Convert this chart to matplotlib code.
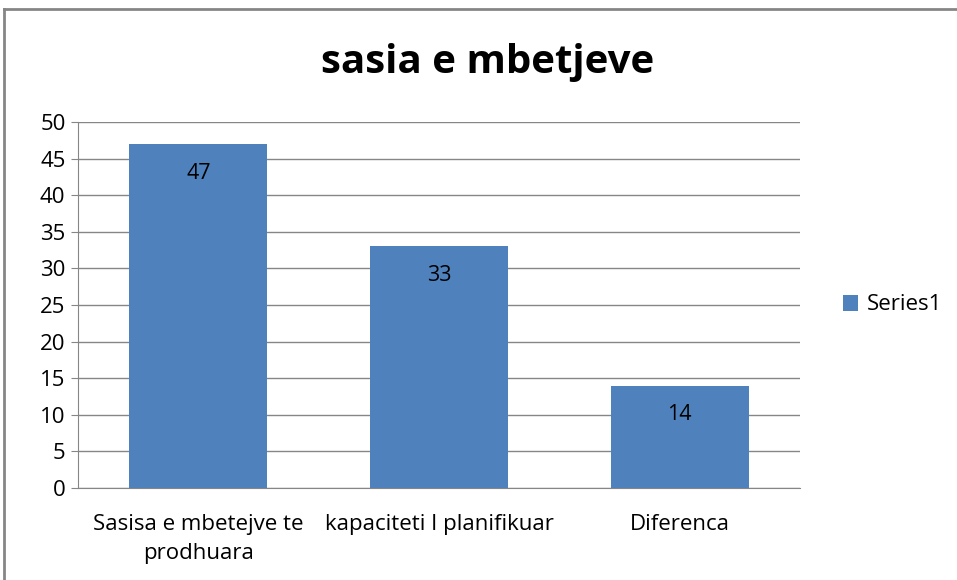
import matplotlib.pyplot as plt
from matplotlib.lines import Line2D

categories = ["Sasisa e mbetejve te\nprodhuara", "kapaciteti I planifikuar", "Diferenca"]
values = [47, 33, 14]
series_name = "Series1"
title = "sasia e mbetjeve"

plt.rcParams['font.family'] = ['Open Sans', 'DejaVu Sans']

fig = plt.figure(figsize=(9.57, 5.8), dpi=100)
ax = fig.add_axes([78/957, 1-488/580, 722/957, 366/580])

bar_color = '#4f81bd'
x = range(len(categories))
bars = ax.bar(x, values, width=0.573, color=bar_color, label=series_name, zorder=3)
for b, v in zip(bars, values):
    ax.text(b.get_x() + b.get_width()/2, v - 4.0, str(v), ha='center', va='center',
            fontsize=15.5, color='black', zorder=4)

ax.set_xlim(-0.5, len(categories) - 0.5)
ax.set_ylim(0, 50)
ax.set_yticks(range(0, 51, 5))
ax.set_xticks(list(x))
ax.set_xticklabels(categories, fontsize=16, linespacing=1.5)
ax.tick_params(axis='y', labelsize=16, length=5, color='#868686', pad=4)
ax.tick_params(axis='x', length=0, pad=19)
ax.grid(axis='y', color='#868686', linewidth=1, zorder=0)
for s in ['top', 'right']:
    ax.spines[s].set_visible(False)
for s in ['left', 'bottom']:
    ax.spines[s].set_color('#868686')

fig.text(488/957, 1-62/580, title, ha='center', va='center', fontsize=29, fontweight='bold')
ax.legend(loc='center left', bbox_to_anchor=(830/722 - 78/722 - 0.01, 0.5),
          frameon=False, fontsize=16, handlelength=0.7, handleheight=0.7, handletextpad=0.4)

# chart border (top and left edges)
fig.add_artist(Line2D([4/957, 4/957], [0, 1-9/580], transform=fig.transFigure, color='#868686', lw=2))
fig.add_artist(Line2D([4/957, 1], [1-9/580, 1-9/580], transform=fig.transFigure, color='#868686', lw=2))

fig.savefig('out.png', dpi=100)
